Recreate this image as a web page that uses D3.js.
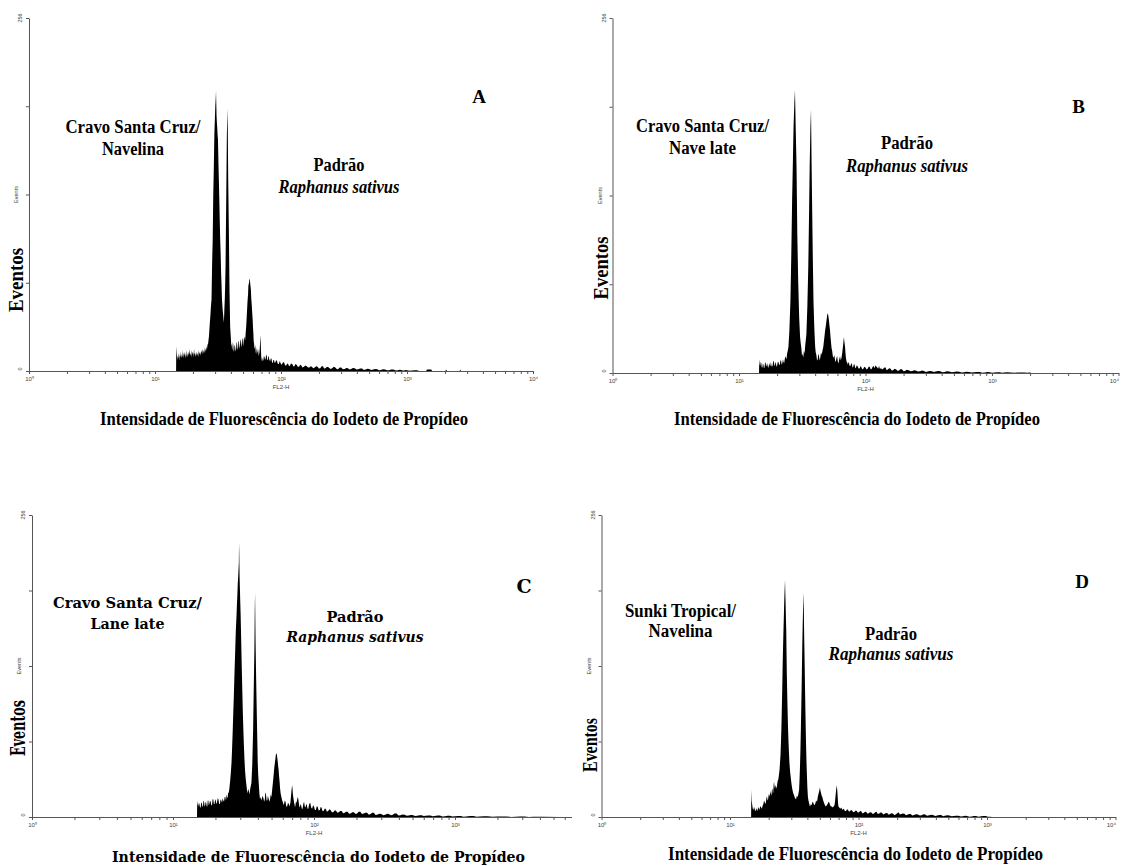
<!DOCTYPE html>
<html><head><meta charset="utf-8">
<script src="https://cdn.jsdelivr.net/npm/d3@7"></script>
<style>body{margin:0;background:#fff}svg{display:block}</style>
</head><body>
<svg id="c" width="1121" height="866"></svg>
<script>
// ---------- data ----------
const decadeValues = [1, 10, 100, 1000, 10000];
const decadeLabels = ["10\u2070", "10\u00b9", "10\u00b2", "10\u00b3", "10\u2074"];
const yTickValues = [0, 64, 128, 192, 256];
const yMax = 256;

const histA = [[14.7,0],[14.75,18],[14.9,12],[15.0,8],[15.15,11],[15.3,9],[15.45,13],[15.6,8],[15.75,12],[15.9,10],[16.05,14],[16.2,9],[16.35,12],[16.5,10],[16.65,15],[16.8,9],[16.95,13],[17.1,11],[17.25,14],[17.4,9],[17.55,12],[17.7,15],[17.85,10],[18.0,13],[18.2,10],[18.4,14],[18.6,11],[18.8,16],[19.0,11],[19.2,13],[19.4,10],[19.6,15],[19.8,12],[20.0,14],[20.2,10],[20.4,16],[20.6,12],[20.8,13],[21.0,10],[21.25,14],[21.5,11],[21.75,13],[22.0,10],[22.25,15],[22.5,12],[22.75,14],[23.0,11],[23.25,15],[23.5,13],[23.75,16],[24.0,12],[24.3,15],[24.6,13],[24.9,17],[25.2,14],[25.5,18],[25.8,15],[26.1,19],[26.4,20],[26.8,25],[27.2,34],[27.5,40],[27.8,47],[28.1,52],[28.4,78],[28.7,95],[29.0,128],[29.3,148],[29.6,172],[29.8,180],[30.1,192],[30.3,197],[30.5,203],[30.8,185],[31.0,180],[31.2,176],[31.4,171],[31.6,168],[31.9,150],[32.1,140],[32.4,124],[32.6,112],[32.9,96],[33.2,85],[33.5,70],[33.7,64],[34.0,52],[34.4,45],[34.8,40],[35.2,35],[35.5,44],[35.8,52],[36.0,60],[36.3,76],[36.8,130],[37.2,173],[37.7,190],[38.1,140],[38.6,100],[39.0,60],[39.5,32],[40.0,24],[40.3,18],[40.6,20],[40.9,15],[41.2,17],[41.5,21],[41.8,19],[42.1,14],[42.5,15],[42.8,19],[43.2,18],[43.6,14],[44.0,16],[44.4,21],[44.8,20],[45.2,15],[45.6,17],[46.0,22],[46.4,21],[46.8,16],[47.2,18],[47.6,23],[48.0,22],[48.4,17],[48.8,19],[49.2,24],[49.6,23],[50.0,18],[50.5,21],[51.0,25],[51.4,24],[51.9,22],[52.4,27],[53.0,33],[53.5,40],[54.2,50],[54.8,56],[55.2,64],[55.6,62],[56.1,67],[56.6,66],[57.2,62],[57.7,59],[58.1,52],[58.6,48],[59.1,42],[59.6,37],[60.0,31],[60.3,28],[60.7,22],[61.1,20],[61.5,17],[62.0,16],[62.5,19],[63.0,14],[63.5,12],[64.0,17],[64.5,14],[65.0,13],[65.5,16],[66.0,15],[66.5,11],[67.0,12],[67.5,14],[68.0,18],[68.4,23],[68.7,26],[69.1,20],[69.4,14],[69.8,9],[70.2,7],[70.6,10],[71.0,9],[71.7,7],[72.5,8],[73.2,11],[74.0,10],[74.7,8],[75.5,9],[76.2,12],[77.0,11],[77.7,8],[78.5,8],[79.2,11],[80,10],[81,8],[82,7],[83,9],[84,9],[85,6],[86,6],[87,8],[88,8],[89,6],[90,6],[91.5,8],[93,7],[94.5,5],[96,5],[97.5,7],[99,6],[100.5,4.5],[102,5],[104,6.5],[106,6],[108,4],[110,4],[112,5.5],[114,5],[116,3.5],[118,4],[120,5.5],[123,5],[125,3.5],[128,3.5],[130,5],[133,4.5],[136,3],[139,3],[142,4.5],[145,4],[148,2.5],[152,3],[156,4],[160,3.5],[164,2.5],[168,2.5],[172,3.5],[176,3],[180,2],[185,2.5],[190,3.5],[195,3],[200,1.8],[205,2],[210,3.5],[215,3.5],[220,1.8],[225,2],[232,3],[240,2.5],[247,1.5],[255,2],[262,3],[270,2.5],[278,1.2],[285,1.5],[292,2.5],[300,2.5],[310,1.2],[320,1.5],[330,2.2],[340,2],[350,1],[360,1.5],[372,2.2],[385,2],[397,1],[410,1.2],[425,1.8],[440,1.8],[455,0.8],[470,1],[485,1.6],[500,1.5],[520,0.7],[540,1],[560,1.4],[580,1.2],[600,0.6],[620,0.8],[645,1.2],[670,1],[695,0.5],[720,0.6],[750,1],[780,1],[815,0.4],[850,0.5],[875,0.9],[900,0.8],[925,0.3],[950,0.3],[975,0.7],[1000,0.6],[1050,0.2],[1100,0.3],[1150,0.6],[1200,0.5],[1250,0],[1420,0],[1440,1],[1560,1],[1580,0],[2020,0],[2040,1],[2080,0],[2620,0],[2640,1],[2680,0]];

const histB = [[14.4,0],[14.45,10],[14.6,6],[14.7,5],[14.85,8],[15.0,7],[15.15,4],[15.3,4],[15.45,7],[15.6,6],[15.75,3.5],[15.9,4],[16.05,7],[16.2,8],[16.35,5],[16.5,5],[16.65,7],[16.8,6],[16.95,4],[17.1,4],[17.25,6],[17.4,7],[17.55,5],[17.7,5],[17.85,8],[18.0,6],[18.2,4.5],[18.4,5],[18.6,8],[18.8,9],[19.0,6],[19.2,5],[19.4,8],[19.6,7],[19.8,4.5],[20.0,5],[20.25,8],[20.5,8],[20.75,6],[21.0,6],[21.25,9],[21.5,9],[21.75,6],[22.0,7],[22.25,10],[22.5,8],[22.75,7],[23.0,10],[23.25,12],[23.5,11],[23.75,10],[24.0,14],[24.3,16],[24.6,19],[25.0,30],[25.5,52],[25.9,85],[26.3,125],[26.7,155],[27.0,178],[27.4,195],[27.7,204],[28.1,175],[28.5,149],[28.9,100],[29.4,65],[29.9,40],[30.4,26],[30.8,21],[31.1,18],[31.5,12],[31.9,14],[32.2,11],[32.6,16],[33.0,14],[33.4,20],[34.1,28],[34.7,48],[35.3,77],[35.8,115],[36.2,149],[36.7,178],[37.1,190],[37.5,150],[37.8,125],[38.3,85],[38.8,52],[39.4,32],[40.0,19],[40.4,15],[40.9,13],[41.4,9],[41.9,10],[42.4,14],[42.9,12],[43.4,9],[43.9,11],[44.5,15],[45.0,13],[45.7,16],[46.4,19],[47.2,25],[48.0,31],[48.6,34],[49.2,38],[49.8,42],[50.4,43],[50.9,41],[51.4,38],[51.9,34],[52.4,31],[52.9,26],[53.4,22],[53.9,18],[54.5,16],[55.2,12],[56.0,11],[56.7,13],[57.5,9],[58.2,8],[59.0,11],[59.7,12],[60.5,8],[61.2,7],[62.0,10],[62.9,12],[63.8,9],[64.6,11],[65.4,14],[66.5,20],[67.5,26],[68.2,22],[68.9,19],[69.5,14],[70.0,11],[70.9,8],[71.7,7.5],[72.5,6],[73.2,8],[74,7],[75,5],[76,5],[77,7],[78,6.5],[79,4],[80,4.5],[81,6.5],[82,6],[83,3.5],[84,4],[85.5,5.5],[87,4.5],[88.5,3],[90,3.5],[91.5,5],[93,4],[94.5,2.5],[96,3],[98,4.5],[100,4],[102,2.5],[104,3],[106,4.5],[108,4.5],[110,2.5],[112,3],[114,4.5],[116,5],[118,3.5],[120,5.5],[122,4.5],[124,4],[126,3],[128,5],[130,3],[133,3.5],[135,2.5],[138,3],[141,4],[144,4],[147,2],[150,2.5],[154,3.5],[158,3],[161,1.8],[165,2],[170,3],[175,2.5],[180,1.5],[185,2],[190,2.8],[195,2.5],[200,1.2],[205,1.5],[212,2.3],[220,2],[227,1.2],[235,1.5],[242,2],[250,1.8],[260,1],[270,1.2],[280,1.8],[290,1.5],[300,0.8],[310,1],[322,1.5],[335,1.3],[347,0.7],[360,1],[375,1.4],[390,1.2],[405,0.6],[420,0.8],[440,1.2],[460,1],[480,0.5],[500,0.7],[525,1],[550,0.9],[575,0.4],[600,0.5],[630,0.9],[660,0.8],[690,0.3],[720,0.5],[760,0.8],[800,0.7],[840,0.2],[880,0.4],[920,0.7],[960,0.6],[1000,0.2],[1050,0.3],[1100,0.6],[1150,0.5],[1200,0.1],[1250,0.3],[1320,0.5],[1400,0.4],[1500,0.1],[1600,0.3],[1700,0.4],[1800,0.4],[1900,0.1],[2000,0.3],[2050,0]];

const histC = [[14.8,0],[14.85,14],[14.95,11],[15.1,9],[15.25,12],[15.4,11],[15.55,8],[15.7,8],[15.85,12],[16.0,12],[16.15,9],[16.3,9],[16.45,14],[16.6,13],[16.75,9],[16.9,10],[17.05,13],[17.2,12],[17.35,9],[17.5,9],[17.65,14],[17.8,14],[17.95,10],[18.1,11],[18.3,14],[18.5,13],[18.7,10],[18.9,10],[19.1,15],[19.3,15],[19.5,11],[19.7,11],[19.9,15],[20.1,14],[20.3,11],[20.5,12],[20.75,16],[21.0,15],[21.25,11],[21.5,11],[21.75,15],[22.0,14],[22.25,12],[22.5,16],[22.75,14],[23.0,13],[23.25,17],[23.5,17],[23.75,14],[24.0,19],[24.2,17],[24.4,16],[24.6,21],[24.8,20],[25.1,24],[25.4,30],[25.7,37],[26.0,46],[26.25,58],[26.5,72],[26.75,88],[27.0,102],[27.3,122],[27.6,140],[27.9,158],[28.2,170],[28.4,180],[28.6,188],[28.8,198],[29.0,204],[29.15,210],[29.3,215],[29.4,232],[29.5,225],[29.65,205],[29.8,195],[30.0,182],[30.2,170],[30.45,150],[30.7,130],[31.0,108],[31.3,88],[31.55,74],[31.8,62],[32.1,50],[32.4,40],[32.75,33],[33.1,28],[33.45,23],[33.8,20],[34.1,24],[34.5,22],[34.9,19],[35.3,24],[35.6,26],[36.0,29],[36.5,45],[37.0,74],[37.4,110],[37.8,144],[38.0,175],[38.2,190],[38.5,150],[38.9,116],[39.4,80],[39.9,46],[40.2,36],[40.6,28],[41.0,20],[41.4,15],[41.9,17],[42.5,14],[43.1,18],[43.8,16],[44.3,13],[44.8,15],[45.2,21],[45.7,19],[46.1,14],[46.6,14],[47.1,18],[47.6,16],[48.2,13],[48.8,15],[49.3,19],[49.9,17],[50.6,24],[51.4,32],[52.3,42],[52.8,46],[53.2,49],[53.8,54],[54.5,53],[54.9,50],[55.3,47],[55.7,43],[56.1,40],[56.5,35],[57.0,30],[57.5,24],[58.0,20],[58.7,17],[59.5,14],[60.3,12],[61.1,10],[62.0,14],[62.8,13],[63.6,9],[64.5,9],[65.4,12],[66.3,11],[67.1,9],[68.0,12],[68.6,17],[69.2,22],[69.6,25],[70.0,27],[70.4,24],[70.8,20],[71.2,17],[71.7,15],[72.2,12],[72.7,11],[73.2,9],[73.7,9],[74.4,13],[75.2,12],[76.0,15],[76.8,17],[77.4,15],[78.0,12],[78.7,9],[79.4,8],[80.2,11],[81,10],[82,7],[83,7],[84,11],[85,13],[86,9],[87,8],[88,11],[89,10],[90,7],[91,7],[92.5,11],[94,12],[95.5,8],[97,7],[98.5,10],[100,9],[101.5,6],[103,6],[104.5,9],[106,9],[108,5.5],[110,6],[111.5,8.5],[113,8],[115,5],[117,5],[119,7],[121,7],[123.5,4.5],[126,5],[128.5,6.5],[131,6],[134,4],[137,4],[140,5.5],[143,5.5],[146.5,3.5],[150,4],[153.5,5],[157,5],[161,3.2],[165,3.5],[169,4.5],[173,4.5],[177.5,2.8],[182,3],[187,4],[192,4],[197,2.5],[202,3],[207.5,4.5],[213,4.5],[219,2.5],[225,3],[231.5,3.5],[238,3.5],[245,2],[252,2.5],[259,3.5],[266,3.5],[273,1.8],[280,2],[290,2.8],[300,2.5],[310,1.5],[320,2],[330,2.8],[340,2.5],[350,1.5],[360,1.8],[372,3],[385,3],[397,1.2],[410,1.5],[425,2.2],[440,2],[455,1],[470,1.2],[485,1.8],[500,1.8],[520,0.8],[540,1],[560,1.5],[580,1.5],[600,0.8],[620,1],[645,1.3],[670,1.3],[695,0.6],[720,0.8],[750,1.2],[780,1.2],[815,0.5],[850,0.7],[885,1],[920,1],[960,0.4],[1000,0.6],[1050,0.9],[1100,0.9],[1150,0.3],[1200,0.5],[1275,0.8],[1350,0.8],[1425,0.3],[1500,0.4],[1600,0.6],[1700,0.6],[1850,0.2],[2000,0.4],[2150,0.5],[2300,0.5],[2500,0.1],[2700,0.3],[2900,0.4],[3100,0.4],[3350,0.1],[3600,0.3],[3900,0.3],[4200,0.3],[5500,0]];

const histD = [[14.6,0],[14.65,23],[14.75,14],[14.9,10],[15.05,7],[15.2,6],[15.35,8],[15.5,8],[15.65,5],[15.8,5],[15.95,7],[16.1,7],[16.25,5],[16.4,6],[16.55,8],[16.7,8],[16.85,6],[17.0,7],[17.2,9],[17.4,9],[17.6,7],[17.8,8],[18.0,10],[18.2,11],[18.4,14],[18.6,13],[18.8,11],[19.0,12],[19.2,16],[19.4,17.5],[19.6,14],[19.8,15],[20.0,19],[20.2,19],[20.4,17],[20.6,22],[20.8,20],[21.0,18],[21.2,23],[21.4,24],[21.55,20],[21.7,21],[21.85,27],[22.0,30],[22.2,26],[22.4,24],[22.6,27],[22.8,26],[23.05,24],[23.3,28],[23.55,31],[23.8,32],[24.05,36],[24.3,40],[24.5,46],[24.7,52],[24.9,62],[25.1,74],[25.25,86],[25.4,100],[25.55,114],[25.7,130],[25.9,146],[26.1,160],[26.25,170],[26.4,181],[26.6,192],[26.8,201],[26.95,190],[27.1,180],[27.25,168],[27.4,158],[27.55,138],[27.7,120],[27.9,103],[28.1,88],[28.3,75],[28.5,65],[28.75,55],[29.0,46],[29.4,38],[29.8,32],[30.2,27],[30.6,23],[31.1,20],[31.6,18],[32.1,16],[32.7,15],[33.1,18],[33.6,17],[34.0,19],[34.5,23],[34.8,33],[35.1,45],[35.35,58],[35.6,74],[35.85,92],[36.1,110],[36.3,127],[36.5,144],[36.75,160],[37.0,175],[37.2,183],[37.4,190],[37.55,175],[37.7,160],[37.9,145],[38.1,130],[38.35,110],[38.6,92],[38.85,75],[39.1,60],[39.4,46],[39.7,35],[40.0,25],[40.4,17],[40.8,14],[41.2,12],[41.6,10],[42.0,9],[42.6,11],[43.2,10],[43.8,13],[44.5,12],[45.2,10],[46.0,11],[46.8,14],[47.6,13],[48.2,17],[48.7,19],[49.2,21],[49.7,23],[50.1,25],[50.6,22],[51.2,20],[51.7,18],[52.3,17],[53.1,14],[53.9,12],[54.8,10],[55.7,9],[56.6,10],[57.5,11],[58.4,13],[59.3,12],[60.2,10],[61.0,9],[62.0,9],[63.0,8],[64.0,9],[65.0,10],[65.6,13],[66.3,18],[67.0,23],[67.8,27],[68.3,23],[68.8,18],[69.3,12],[69.8,9],[70.9,8],[72.0,7],[73.4,8],[74.9,6],[76,7],[77,6.5],[78.5,5],[80,5],[81.5,6.5],[83,6],[84.5,4.5],[86,5],[87.5,6],[89,5.5],[91,4],[93,4.5],[95,5.5],[97,5],[99,3.5],[101,4],[103,5],[105,4.8],[107.5,3],[110,3.5],[112.5,4.5],[115,4.2],[117.5,2.8],[120,3.2],[123,4],[126,3.8],[129,2.5],[132,3],[135,4],[138,4.5],[141.5,2.5],[145,3],[148.5,3.8],[152,3.5],[156,2.2],[160,2.8],[164,3.3],[168,3.2],[172,2],[176,2.5],[180.5,3.2],[185,3],[190,1.8],[195,2.2],[200,3.2],[205,4],[210,2.2],[215,2.5],[221,3],[228,2.8],[234,1.5],[240,2],[247,2.6],[255,2.5],[262,1.3],[270,1.8],[280,2.3],[290,2.2],[300,1.2],[310,1.5],[320,2.3],[330,2.2],[342,1.1],[355,1.5],[367,1.9],[380,1.8],[395,0.9],[410,1.2],[425,1.7],[440,1.6],[455,0.7],[470,1],[490,1.4],[510,1.3],[530,0.6],[550,0.8],[575,1.1],[600,1],[625,0.4],[650,0.6],[675,1],[700,0.9],[730,0.3],[760,0.5],[790,0.8],[820,0.8],[860,0.3],[900,0.6],[940,0.9],[980,0.9],[1015,0.2],[1050,0.3],[1100,0]];

const panelLetters = ["A", "B", "C", "D"];
const sampleLines = [["Cravo Santa Cruz/", "Navelina"], ["Cravo Santa Cruz/", "Nave late"], ["Cravo Santa Cruz/", "Lane late"], ["Sunki Tropical/", "Navelina"]];
const standardLines = ["Padrão", "Raphanus sativus"];
const xTitle = "Intensidade de Fluorescência do Iodeto de Propídeo";
const yTitle = "Eventos";
const xAxisName = "FL2-H";
const yAxisName = "Events";
const histograms = [histA, histB, histC, histD];

// ---------- layout ----------
const W = 1121;
const layout = [
  {x0:29, dec:126, yTop:18, yBot:371, clip:null, font:"Liberation Serif", fs:18.5, tfs:18.5,
   letter:[479,103], left:[133,[133,155],[135,62]], right:[339,[171,193],[51,121]], title:[284,425,368], ev:[23,280,64]},
  {x0:612.5, dec:126.5, yTop:18, yBot:373, clip:null, font:"Liberation Serif", fs:18.5, tfs:18.5,
   letter:[1078.5,113], left:[702.5,[132,154],[133,67]], right:[907,[149,172],[52,122]], title:[857,425,366], ev:[608,268,63]},
  {x0:32, dec:141, yTop:515, yBot:817, clip:572, font:"DejaVu Serif", fs:14.5, tfs:15.5,
   letter:[524,593], left:[127.5,[608,629],[149,74]], right:[355,[622,642],[57,137]], title:[318.5,862,413], ev:[25,728,56]},
  {x0:601.5, dec:128.5, yTop:515, yBot:817, clip:null, font:"Liberation Serif", fs:18.5, tfs:18.5,
   letter:[1082,588], left:[680.5,[617,637],[111,64]], right:[891,[640,660],[52,125]], title:[855.5,860,375], ev:[597,745,54]}
];

const svg = d3.select("#c");
const axisColor = "#555";

layout.forEach((L, i) => {
  const x = d3.scaleLog().domain([1, 10000]).range([L.x0, L.x0 + 4 * L.dec]);
  const y = d3.scaleLinear().domain([0, yMax]).range([L.yBot, L.yTop]);
  const limit = L.clip || W;
  let g = svg.append("g");
  if (L.clip) {
    svg.append("clipPath").attr("id", "clip" + i).append("rect")
      .attr("x", 0).attr("y", 0).attr("width", L.clip).attr("height", 866);
    g = g.attr("clip-path", "url(#clip" + i + ")");
  }
  // histogram
  const area = d3.area().x(d => x(d[0])).y0(L.yBot).y1(d => y(d[1]));
  g.append("path").datum(histograms[i]).attr("d", area).attr("fill", "#000");

  // x axis
  const tv = [];
  decadeValues.slice(0, 4).forEach(d => { for (let k = 1; k <= 9; k++) tv.push(d * k); });
  tv.push(10000);
  const xa = g.append("g").attr("transform", `translate(0,${L.yBot})`)
    .call(d3.axisBottom(x).tickValues(tv).tickSize(3).tickSizeOuter(0)
      .tickFormat(d => { const j = decadeValues.indexOf(d); return (j >= 0 && x(d) < limit - 2) ? decadeLabels[j] : ""; }));
  xa.select(".domain").attr("stroke", axisColor);
  xa.selectAll(".tick line").attr("stroke", axisColor);
  xa.selectAll(".tick text").attr("font-family", "Liberation Sans").attr("font-size", 6).attr("fill", "#444").attr("y", 6)
    .attr("text-anchor", d => x(d) > W - 6 ? "end" : "middle");
  g.append("text").attr("x", L.x0 + 2 * L.dec).attr("y", L.yBot + 18).attr("text-anchor", "middle")
    .attr("font-family", "Liberation Sans").attr("font-size", 6).attr("fill", "#444").text(xAxisName);

  // y axis
  const ya = g.append("g").attr("transform", `translate(${L.x0},0)`)
    .call(d3.axisLeft(y).tickValues(yTickValues).tickSize(3).tickSizeOuter(0).tickFormat(""));
  ya.select(".domain").attr("stroke", axisColor);
  ya.selectAll(".tick line").attr("stroke", axisColor);
  [0, yMax].forEach(v => {
    g.append("text").attr("transform", `translate(${L.x0 - 7},${y(v) - (v === 0 ? 2 : 0)}) rotate(-90)`)
      .attr("text-anchor", "middle").attr("font-family", "Liberation Sans").attr("font-size", 5.5).attr("fill", "#444").text(v);
  });
  g.append("text").attr("transform", `translate(${L.x0 - 11},${(L.yTop + L.yBot) / 2}) rotate(-90)`)
    .attr("text-anchor", "middle").attr("font-family", "Liberation Sans").attr("font-size", 5.5).attr("fill", "#444").text(yAxisName);

  // titles
  const bold = (sel) => sel.attr("font-family", L.font).attr("font-weight", "bold").attr("fill", "#000");
  bold(svg.append("text")).attr("transform", `translate(${L.ev[0]},${L.ev[1]}) rotate(-90)`).attr("text-anchor", "middle")
    .attr("font-size", 20).attr("textLength", L.ev[2]).attr("lengthAdjust", "spacingAndGlyphs").text(yTitle);
  bold(svg.append("text")).attr("x", L.title[0]).attr("y", L.title[1]).attr("text-anchor", "middle")
    .attr("font-size", L.tfs).attr("textLength", L.title[2]).attr("lengthAdjust", "spacingAndGlyphs").text(xTitle);
  bold(svg.append("text")).attr("x", L.letter[0]).attr("y", L.letter[1]).attr("text-anchor", "middle")
    .attr("font-size", 19).text(panelLetters[i]);
  sampleLines[i].forEach((t, k) => {
    bold(svg.append("text")).attr("x", L.left[0]).attr("y", L.left[1][k]).attr("text-anchor", "middle")
      .attr("font-size", L.fs).attr("textLength", L.left[2][k]).attr("lengthAdjust", "spacingAndGlyphs").text(t);
  });
  standardLines.forEach((t, k) => {
    bold(svg.append("text")).attr("x", L.right[0]).attr("y", L.right[1][k]).attr("text-anchor", "middle")
      .attr("font-size", L.fs).attr("font-style", k === 1 ? "italic" : "normal")
      .attr("textLength", L.right[2][k]).attr("lengthAdjust", "spacingAndGlyphs").text(t);
  });
});
</script>
</body></html>
